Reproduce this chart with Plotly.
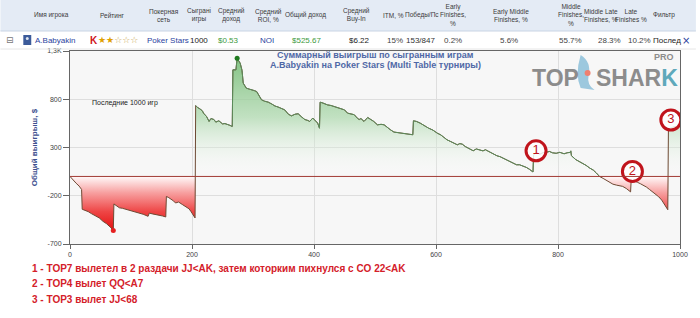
import numpy as np
import plotly.graph_objects as go

# ---------------- data ----------------
games = [0, 5, 10, 15, 17, 19, 20, 25, 30, 35, 38, 43, 48, 54, 60, 66, 71, 72, 76, 81, 86, 92, 100, 108, 113, 120,
         128, 130, 135, 140, 146, 152, 157, 158, 162, 165, 170, 173, 178, 184, 190, 195, 198, 202, 205, 206, 209,
         213, 217, 219, 224, 228, 231, 236, 239, 244, 250, 254, 258, 262, 266, 267, 272, 274, 279, 282, 284, 289,
         294, 298, 302, 306, 310, 314, 319, 325, 331, 336, 341, 347, 352, 358, 363, 369, 374, 380, 385, 390, 393,
         398, 403, 406, 409, 410, 415, 422, 428, 433, 438, 444, 450, 455, 460, 466, 471, 474, 477, 482, 488, 493,
         498, 504, 510, 515, 520, 525, 531, 537, 542, 547, 552, 557, 562, 563, 568, 574, 580, 584, 588, 595, 602,
         608, 613, 618, 624, 630, 635, 639, 643, 648, 655, 661, 666, 672, 677, 681, 686, 690, 695, 700, 705, 710,
         716, 721, 727, 732, 737, 742, 748, 753, 759, 760, 765, 770, 775, 780, 786, 791, 797, 803, 810, 815, 820,
         821, 822, 829, 835, 840, 846, 852, 858, 863, 868, 874, 880, 885, 890, 896, 901, 906, 912, 916, 919, 920,
         925, 930, 935, 940, 945, 950, 955, 960, 965, 970, 975, 980, 981, 985, 990, 995, 1000]
winnings = [0, -40, -70, -100, -120, -135, -340, -350, -365, -385, -395, -405, -430, -465, -490, -525, -560, -285,
            -300, -325, -330, -340, -352, -368, -378, -392, -413, -380, -388, -393, -400, -410, -420, -207, -220,
            -230, -255, -275, -265, -290, -310, -335, -360, -395, -430, 735, 715, 700, 680, 655, 620, 570, 600, 590,
            563, 577, 545, 548, 535, 530, 518, 1105, 1105, 1225, 1174, 1100, 967, 915, 905, 900, 890, 880, 840, 794,
            780, 770, 750, 730, 720, 708, 690, 645, 628, 645, 650, 615, 590, 580, 570, 605, 575, 553, 500, 770, 760,
            742, 735, 725, 720, 708, 690, 656, 650, 640, 604, 590, 600, 570, 611, 590, 570, 535, 540, 535, 505, 485,
            460, 455, 445, 439, 440, 435, 432, 577, 570, 553, 535, 515, 500, 480, 449, 430, 405, 380, 362, 345, 328,
            340, 335, 310, 290, 266, 285, 275, 265, 277, 260, 245, 232, 214, 205, 190, 173, 155, 140, 121, 121, 110,
            94, 75, 46, 225, 250, 230, 245, 250, 259, 245, 240, 250, 235, 245, 250, 265, 215, 175, 155, 140, 115, 87,
            65, 35, 0, -20, -45, -60, -80, -90, -95, -103, -125, -140, -160, -35, -45, -60, -75, -90, -110, -135,
            -160, -185, -210, -245, -290, -345, 490, 505, 515, 520, 526]

event_labels = ["1", "2", "3"]
event_games = [764, 922, 985]
event_levels = [266, 52, 585]

y_tickvals = [-700, -200, 300, 800, 1300]
y_ticktext = ["-700", "-200", "300", "800", "1,3K"]
x_tickvals = [0, 200, 400, 600, 800, 1000]

title_lines = ["Суммарный выигрыш по сыгранным играм",
               "A.Babyakin на Poker Stars (Multi Table турниры)"]
y_title = "Общий выигрыш, $"
period_note = "Последние 1000 игр"
notes = ["1 - TOP7 вылетел в 2 раздачи JJ<AK, затем которким пихнулся с CO 22<AK",
         "2 - TOP4 вылет QQ<A7",
         "3 - TOP3 вылет JJ<68"]

table_headers = ["Имя игрока", "Рейтинг", "Покерная<br>сеть", "Сыграні<br>игры", "Средний<br>доход",
                 "Средний<br>ROI, %", "Общий доход", "Средний<br>Buy-In", "ITM, %", "Победы/Пс",
                 "Early<br>Finishes,<br>%", "Early Middle<br>Finishes, %", "Middle<br>Finishes,<br>%",
                 "Middle Late<br>Finishes, %", "Late<br>Finishes %", "Фильтр"]
table_values = ["A.Babyakin", "", "Poker Stars", "1000", "$0.53", "NOI", "$525.67", "$6.22", "15%",
                "153/847", "0.2%", "5.6%", "55.7%", "28.3%", "10.2%", "Послед"]

# ---------------- layout helpers (pixel -> paper) ----------------
W, H = 700, 318
L, R, T, B = 70, 16, 51, 74
PW, PH = W - L - R, H - T - B


def px(xp):
    return (xp - L) / PW


def py(yp):
    return (H - B - yp) / PH


g = np.array(games, dtype=float)
v = np.array(winnings, dtype=float)
pos = np.maximum(v, 0)
neg = np.minimum(v, 0)

fig = go.Figure()

fig.add_trace(go.Scatter(
    x=g, y=pos, mode="lines", line=dict(width=0), fill="tozeroy",
    fillgradient=dict(type="vertical", start=0, stop=float(v.max()),
                      colorscale=[[0, "rgba(255,255,255,0)"], [0.5, "rgba(170,215,170,0.7)"],
                                  [1, "rgba(110,185,110,0.85)"]]),
    hoverinfo="skip", showlegend=False))
fig.add_trace(go.Scatter(
    x=g, y=neg, mode="lines", line=dict(width=0), fill="tozeroy",
    fillgradient=dict(type="vertical", start=float(v.min()), stop=0,
                      colorscale=[[0, "rgb(228,15,15)"], [0.35, "rgb(238,70,70)"],
                                  [0.7, "rgb(247,160,160)"], [1, "rgb(255,250,250)"]]),
    hoverinfo="skip", showlegend=False))

# line: brown where negative, green where positive
fig.add_trace(go.Scatter(x=g, y=v, mode="lines", line=dict(color="#6e4a34", width=1),
                         hoverinfo="skip", showlegend=False))
fig.add_trace(go.Scatter(x=g, y=np.where(v >= 0, v, np.nan), mode="lines",
                         line=dict(color="#5b8c5b", width=1), connectgaps=False,
                         hoverinfo="skip", showlegend=False))

# extreme markers
imax, imin = int(np.argmax(v)), int(np.argmin(v))
fig.add_trace(go.Scatter(x=[g[imax]], y=[v[imax]], mode="markers",
                         marker=dict(color="#1f7a1f", size=5), showlegend=False))
fig.add_trace(go.Scatter(x=[g[imin]], y=[v[imin]], mode="markers",
                         marker=dict(color="#e52020", size=5), showlegend=False))

# event circles
fig.add_trace(go.Scatter(x=event_games, y=event_levels, mode="markers+text", text=event_labels,
                         textposition="middle center",
                         textfont=dict(color="#c0141c", size=13, family="Liberation Sans"),
                         marker=dict(symbol="circle", size=20, color="rgba(255,255,255,0.85)",
                                     line=dict(color="#c0141c", width=3)),
                         showlegend=False))

shapes = []
annotations = []

# zero line above fills
shapes.append(dict(type="line", xref="paper", yref="y", x0=0, x1=1, y0=0, y1=0,
                   line=dict(color="#a23b35", width=1), layer="above"))

# ----- table header -----
shapes.append(dict(type="rect", xref="paper", yref="paper", x0=px(0), x1=px(700), y0=py(31), y1=py(0),
                   fillcolor="#e4ebf5", line=dict(width=0), layer="below"))
shapes.append(dict(type="line", xref="paper", yref="paper", x0=px(0), x1=px(700), y0=py(31), y1=py(31),
                   line=dict(color="#c9d4e4", width=1)))
shapes.append(dict(type="line", xref="paper", yref="paper", x0=px(0), x1=px(700), y0=py(49), y1=py(49),
                   line=dict(color="#e6e6e6", width=1)))
col_x = [51, 112, 165, 200, 233, 270, 307, 358, 396, 424, 456, 514, 574, 604, 635, 655]
for i, (lab, cx) in enumerate(zip(table_headers, col_x)):
    annotations.append(dict(xref="paper", yref="paper", x=px(cx), y=py(15), text=lab, showarrow=False,
                            xanchor="left" if i == len(col_x) - 1 else "center", yanchor="middle",
                            font=dict(size=6.5, color="#3a3a3a", family="Liberation Sans")))
val_colors = ["#2a3f9e", "#000", "#2a3f9e", "#222", "#3d9a3d", "#2a3f9e", "#3d9a3d", "#222", "#444",
              "#333", "#444", "#444", "#444", "#444", "#444", "#222"]
val_x = [33, 0, 145, 200, 230, 268, 308, 361, 397, 423, 456, 512, 574, 613, 643, 655]
for i, (val, cx, col) in enumerate(zip(table_values, val_x, val_colors)):
    if not val:
        continue
    left = i in (0, 2, len(val_x) - 1)
    annotations.append(dict(xref="paper", yref="paper", x=px(cx), y=py(40), text=val, showarrow=False,
                            xanchor="left" if left else "center", yanchor="middle",
                            font=dict(size=8, color=col, family="Liberation Sans")))
# rating, icons
annotations.append(dict(xref="paper", yref="paper", x=px(88), y=py(40), text="<b>K</b>", showarrow=False,
                        xanchor="left", yanchor="middle", font=dict(size=10, color="#d0161c", family="Liberation Sans")))
annotations.append(dict(xref="paper", yref="paper", x=px(96), y=py(40),
                        text="<span style='color:#e0a000'>★★</span><span style='color:#c9a44a'>☆☆☆</span>",
                        showarrow=False, xanchor="left", yanchor="middle",
                        font=dict(size=9, family="DejaVu Sans")))
annotations.append(dict(xref="paper", yref="paper", x=px(10), y=py(40), text="⊟", showarrow=False,
                        xanchor="center", yanchor="middle", font=dict(size=9, color="#777", family="DejaVu Sans")))
annotations.append(dict(xref="paper", yref="paper", x=px(690), y=py(40), text="×", showarrow=False,
                        xanchor="center", yanchor="middle", font=dict(size=10, color="#2a3f9e", family="DejaVu Sans")))
shapes.append(dict(type="rect", xref="paper", yref="paper", x0=px(23), x1=px(31), y0=py(45), y1=py(35),
                   fillcolor="#3c5b9a", line=dict(width=0)))
shapes.append(dict(type="circle", xref="paper", yref="paper", x0=px(25.5), x1=px(28.5), y0=py(40), y1=py(37),
                   fillcolor="#dfe6f2", line=dict(width=0)))

# chart title
for i, t in enumerate(title_lines):
    annotations.append(dict(xref="paper", yref="paper", x=px(378), y=py(55 + 10 * i), text="<b>" + t + "</b>",
                            showarrow=False, xanchor="center", yanchor="middle",
                            font=dict(size=9, color="#4f68a6", family="Liberation Sans")))
annotations.append(dict(xref="paper", yref="paper", x=px(90), y=py(103), text=period_note, showarrow=False,
                        xanchor="left", yanchor="middle", font=dict(size=7, color="#222", family="Liberation Sans")))

# logo
annotations.append(dict(xref="paper", yref="paper", x=px(533), y=py(78), text="<b>TOP</b>", showarrow=False,
                        xanchor="left", yanchor="middle", font=dict(size=23, color="#8c8c8c", family="Liberation Sans")))
annotations.append(dict(xref="paper", yref="paper", x=px(597), y=py(78),
                        text="<b>SHAR<span style='color:#5fa9bb'>K</span></b>", showarrow=False,
                        xanchor="left", yanchor="middle", font=dict(size=23, color="#8c8c8c", family="Liberation Sans")))
annotations.append(dict(xref="paper", yref="paper", x=px(656), y=py(57), text="<b>PRO</b>", showarrow=False,
                        xanchor="left", yanchor="middle", font=dict(size=9, color="#8c8c8c", family="Liberation Sans")))
shapes.append(dict(type="path", xref="paper", yref="paper",
                   path=f"M {px(584)},{py(55)} Q {px(595)},{py(62)} {px(592)},{py(75)} "
                        f"Q {px(590)},{py(85)} {px(598)},{py(90)} L {px(584)},{py(88)} "
                        f"Q {px(578)},{py(75)} {px(584)},{py(55)} Z",
                   fillcolor="#9cc8de", line=dict(width=0)))
shapes.append(dict(type="circle", xref="paper", yref="paper", x0=px(588), x1=px(594), y0=py(76), y1=py(70),
                   fillcolor="#f08070", line=dict(width=0)))

# notes
for i, t in enumerate(notes):
    annotations.append(dict(xref="paper", yref="paper", x=px(30), y=py(268 + 15.5 * i), text="<b>" + t + "</b>",
                            showarrow=False, xanchor="left", yanchor="middle",
                            font=dict(size=10, color="#d4202a", family="Liberation Sans Narrow, Liberation Sans")))

fig.update_layout(
    width=W, height=H, margin=dict(l=L, r=R, t=T, b=B),
    paper_bgcolor="white", plot_bgcolor="#f7f7f7",
    shapes=shapes, annotations=annotations,
    font=dict(family="Liberation Sans", size=7, color="#444"),
    xaxis=dict(range=[0, 1000], tickvals=x_tickvals, showgrid=True, gridcolor="#dedede", gridwidth=1,
               zeroline=False, showline=True, linecolor="#666", linewidth=1, mirror=True,
               ticks="outside", ticklen=4, tickcolor="#666", tickfont=dict(size=7, color="#444")),
    yaxis=dict(range=[-700, 1300], tickvals=y_tickvals, ticktext=y_ticktext, showgrid=True,
               gridcolor="#dedede", gridwidth=1, zeroline=False, showline=True, linecolor="#666",
               linewidth=1, mirror=True, ticks="outside", ticklen=6, tickcolor="#666",
               tickfont=dict(size=7, color="#444"),
               title=dict(text="<b>" + y_title + "</b>", standoff=8,
                          font=dict(size=8, color="#3d4f8f", family="Liberation Sans"))),
)

fig.write_html("out.html")
